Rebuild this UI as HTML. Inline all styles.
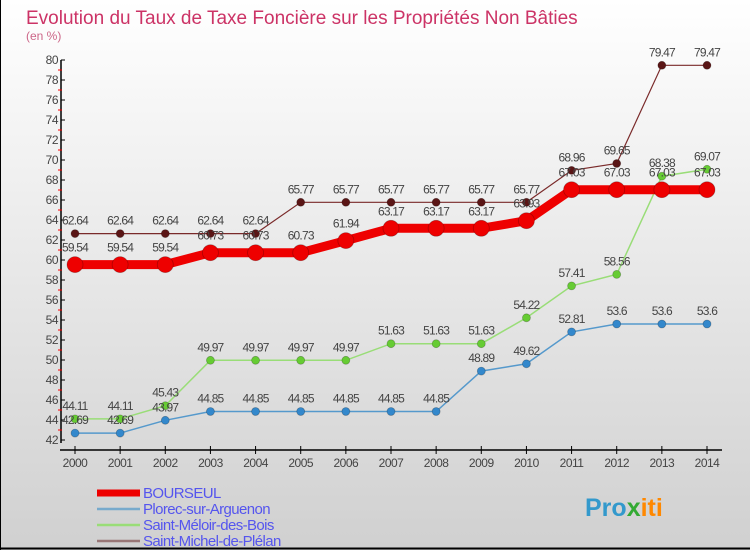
<!DOCTYPE html>
<html><head><meta charset="utf-8"><style>
html,body{margin:0;padding:0}
body{width:750px;height:550px;overflow:hidden;font-family:"Liberation Sans",sans-serif}
</style></head><body>
<svg id="c" width="750" height="550" xmlns="http://www.w3.org/2000/svg">
<defs><linearGradient id="bg" x1="0" y1="0" x2="0" y2="1"><stop offset="0" stop-color="#ffffff"/><stop offset="1" stop-color="#d0d0d0"/></linearGradient></defs>
<rect x="0" y="0" width="750" height="550" fill="url(#bg)"/>
<line x1="0.5" y1="0" x2="0.5" y2="550" stroke="#000"/>
<line x1="0" y1="548.5" x2="750" y2="548.5" stroke="#000" stroke-width="2"/>
<text x="26" y="24" font-size="19" fill="#cc3366">Evolution du Taux de Taxe Foncière sur les Propriétés Non Bâties</text>
<text x="26" y="40" font-size="12" fill="#cc6688">(en %)</text>
<g id="axes"></g><g id="series"></g><g id="legend"></g>
<text x="585" y="516" font-size="25" font-weight="bold" fill="#3399cc">Pro<tspan fill="#33aa33">x</tspan><tspan fill="#ff8800">iti</tspan></text>
</svg>
<script>
const years=["2000","2001","2002","2003","2004","2005","2006","2007","2008","2009","2010","2011","2012","2013","2014"];
const yTicks=[42,44,46,48,50,52,54,56,58,60,62,64,66,68,70,72,74,76,78,80];
const bourseul=[59.54,59.54,59.54,60.73,60.73,60.73,61.94,63.17,63.17,63.17,63.93,67.03,67.03,67.03,67.03];
const plorec=[42.69,42.69,43.97,44.85,44.85,44.85,44.85,44.85,44.85,48.89,49.62,52.81,53.6,53.6,53.6];
const meloir=[44.11,44.11,45.43,49.97,49.97,49.97,49.97,51.63,51.63,51.63,54.22,57.41,58.56,68.38,69.07];
const michel=[62.64,62.64,62.64,62.64,62.64,65.77,65.77,65.77,65.77,65.77,65.77,68.96,69.65,79.47,79.47];
const NS="http://www.w3.org/2000/svg";
const X=i=>75+i*(707-75)/14;
const Y=v=>60+(80-v)*10;
function mk(tag,attrs,parent,txt){const e=document.createElementNS(NS,tag);for(const k in attrs)e.setAttribute(k,attrs[k]);if(txt!==undefined)e.textContent=txt;parent.appendChild(e);return e;}
const ax=document.getElementById('axes');
let e=mk('line',{x1:61,y1:60,x2:61,y2:443,stroke:'#000','stroke-width':1.5},ax);


e=mk('line',{x1:60,y1:450,x2:722,y2:450,stroke:'#000','stroke-width':1.5},ax);


yTicks.forEach(t=>{
 mk('line',{x1:61,y1:Y(t),x2:65,y2:Y(t),stroke:'#000'},ax);
 if(t<80) mk('line',{x1:58,y1:Y(t+1),x2:62,y2:Y(t+1),stroke:'#f00'},ax);
 const l=mk('text',{x:58,y:Y(t)+4,'font-size':12,fill:'#444','text-anchor':'end','letter-spacing':'-0.5'},ax,t);
 
 
});
years.forEach((y,i)=>{
 mk('line',{x1:X(i),y1:446,x2:X(i),y2:454,stroke:'#000'},ax);
 const l=mk('text',{x:X(i),y:467,'font-size':12,fill:'#444','text-anchor':'middle','letter-spacing':'-0.5'},ax,y);
 
 
});
const sg=document.getElementById('series');
const series=[
 {d:michel,c:'#7a2a2a',p:'#5a1515',w:1.2,r:4,n:'saint-michel'},
 {d:meloir,c:'#99dd77',p:'#66cc33',w:1.5,r:4,n:'saint-meloir'},
 {d:plorec,c:'#5599cc',p:'#3388cc',w:1.5,r:4,n:'plorec'},
 {d:bourseul,c:'#ee0000',p:'#ee0000',w:9,r:8,n:'bourseul'}];
series.forEach(s=>{
 const g=mk('g',{},sg);
 
 
 const pl=mk('polyline',{points:s.d.map((v,i)=>X(i)+','+Y(v)).join(' '),fill:'none',stroke:s.c,'stroke-width':s.w},g);
 
 
 s.d.forEach((v,i)=>{
  const c=mk('circle',{cx:X(i),cy:Y(v),r:s.r,fill:s.p,stroke:'rgba(0,0,0,0.25)','stroke-width':0.8},g);
  
  
  const t=mk('text',{x:X(i),y:Y(v)-(s.n==='bourseul'?13:9),'font-size':12,fill:'#444','text-anchor':'middle','letter-spacing':'-0.8'},g,v);
  
  
 });
});
const lg=document.getElementById('legend');
const leg=[['BOURSEUL','#ee0000',7,493],['Plorec-sur-Arguenon','#77aacc',2.5,509],['Saint-Méloir-des-Bois','#99dd77',2.5,525],['Saint-Michel-de-Plélan','#997777',2.5,541]];
leg.forEach(l=>{
 const g=mk('g',{},lg);
 
 
 mk('line',{x1:97,y1:l[3],x2:140,y2:l[3],stroke:l[1],'stroke-width':l[2]},g);
 mk('text',{x:143,y:l[3]+5,'font-size':15,fill:'#5555ee','letter-spacing':'-0.6'},g,l[0]);
});
</script>
</body></html>
